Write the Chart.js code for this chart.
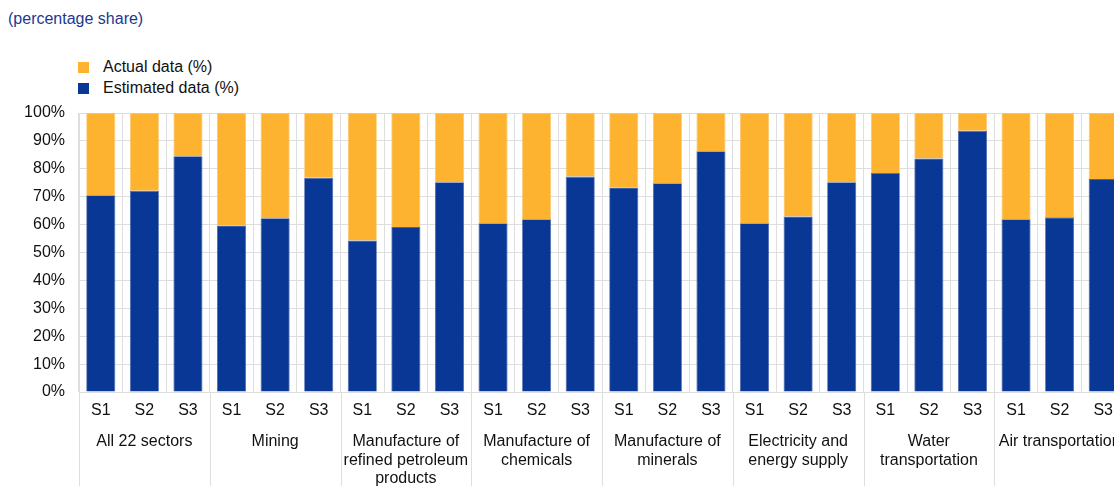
<!DOCTYPE html>
<html lang="en">
<head>
    <meta charset="UTF-8">
    <title>Share of actual and estimated data</title>
    <script src="https://cdn.jsdelivr.net/npm/chart.js@4.4.0/dist/chart.umd.min.js"></script>
    <style>
        html, body { margin: 0; padding: 0; background: #fff; overflow: hidden; }
        body { width: 1114px; height: 486px; position: relative; font-family: "Liberation Sans", Arial, sans-serif; }
        #unit { position: absolute; left: 8px; top: 10px; font-size: 16px; color: #1b3a90; }
        #legend { position: absolute; left: 78px; top: 56px; font-size: 16px; color: #111; }
        #legend div { height: 21px; line-height: 21px; white-space: nowrap; }
        #legend span { display: inline-block; width: 11px; height: 11px; margin-right: 14px; vertical-align: -1px; }
        #wrap { position: absolute; left: 0; top: 0; width: 1140px; height: 486px; }
    </style>
</head>
<body>

<div id="unit">(percentage share)</div>
<div id="legend"></div>
<div id="wrap"><canvas id="chart"></canvas></div>

<script>
    const sectors = [
        'All 22 sectors',
        'Mining',
        ['Manufacture of', 'refined petroleum', 'products'],
        ['Manufacture of', 'chemicals'],
        ['Manufacture of', 'minerals'],
        ['Electricity and', 'energy supply'],
        ['Water', 'transportation'],
        'Air transportation'
    ];
    const scopes = ['S1', 'S2', 'S3'];

    // estimated share per sector, S1/S2/S3 in turn
    const estimated = [
        70.5, 72.1, 84.5,
        59.7, 62.3, 76.8,
        54.3, 59.1, 75.2,
        60.5, 61.9, 77.2,
        73.3, 74.8, 86.3,
        60.5, 62.9, 75.2,
        78.5, 83.7, 93.6,
        61.9, 62.6, 76.3
    ];
    const actual = estimated.map(v => +(100 - v).toFixed(1));

    const BLUE = '#083795';
    const YELLOW = '#fdb32f';
    const GRID = '#dedede';
    const FONT = { family: '"Liberation Sans", Arial, sans-serif', size: 16, lineHeight: 1.13 };

    const labels = [];
    sectors.forEach(() => scopes.forEach(s => labels.push(s)));

    const datasets = [
        { label: 'Estimated data (%)', data: estimated, backgroundColor: BLUE, borderColor: '#4563a8' },
        { label: 'Actual data (%)', data: actual, backgroundColor: YELLOW, borderColor: '#f9c66a' }
    ];

    // legend lists the top series first
    document.getElementById('legend').innerHTML = datasets.slice().reverse()
        .map(d => `<div><span style="background:${d.backgroundColor}"></span>${d.label}</div>`).join('');

    // lines under the axis that split the sector groups
    const groupLines = {
        id: 'groupLines',
        afterDraw(chart) {
            const x = chart.scales.x;
            const step = x.width / labels.length;
            const ctx = chart.ctx;
            ctx.save();
            ctx.strokeStyle = GRID;
            ctx.lineWidth = 1;
            for (let i = 0; i <= labels.length; i += scopes.length) {
                const px = Math.round(x.left + i * step) + 0.5;
                ctx.beginPath();
                ctx.moveTo(px, chart.chartArea.bottom);
                ctx.lineTo(px, chart.height);
                ctx.stroke();
            }
            ctx.restore();
        }
    };

    new Chart(document.getElementById('chart'), {
        type: 'bar',
        data: { labels: labels, datasets: datasets },
        plugins: [groupLines],
        options: {
            responsive: true,
            maintainAspectRatio: false,
            animation: false,
            layout: { padding: { top: 113, right: 15, left: 0, bottom: 0 } },
            datasets: { bar: { categoryPercentage: 1, barPercentage: 0.667, borderWidth: 0.8 } },
            plugins: { legend: { display: false }, tooltip: { enabled: false } },
            scales: {
                x: {
                    stacked: true,
                    afterFit: s => { s.height = 30; },
                    grid: { color: GRID, drawTicks: false, offset: true },
                    border: { color: GRID },
                    ticks: { color: '#111', font: FONT, padding: 10, autoSkip: false, maxRotation: 0 }
                },
                groups: {
                    type: 'category',
                    position: 'bottom',
                    labels: sectors,
                    offset: true,
                    afterFit: s => { s.height = 64; },
                    grid: { display: false, drawTicks: false },
                    border: { display: false },
                    ticks: { color: '#111', font: FONT, padding: 11, autoSkip: false, maxRotation: 0 }
                },
                y: {
                    stacked: true,
                    min: 0,
                    max: 100,
                    afterFit: s => { s.width = 79; },
                    grid: { color: GRID, drawTicks: false },
                    border: { color: GRID },
                    ticks: { stepSize: 10, color: '#111', font: FONT, padding: 14, callback: v => v + '%' }
                }
            }
        }
    });
</script>

</body>
</html>
